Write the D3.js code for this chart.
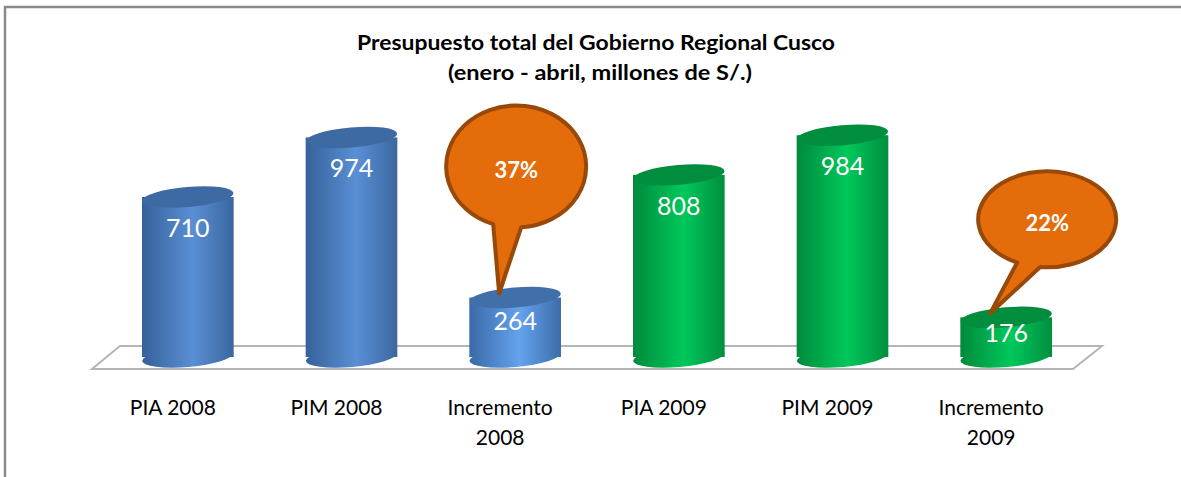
<!DOCTYPE html>
<html>
<head>
<meta charset="utf-8">
<script src="https://cdn.jsdelivr.net/npm/d3@7"></script>
<style>
  body { margin: 0; background: #fff; }
  svg { display: block; font-family: Lato, "Open Sans", sans-serif; }
</style>
</head>
<body>
<svg id="chart"></svg>
<script>
// chart data
const categories = ["PIA 2008", "PIM 2008", "Incremento 2008", "PIA 2009", "PIM 2009", "Incremento 2009"];
const values = [710, 974, 264, 808, 984, 176];
const groups = ["2008", "2008", "2008b", "2009", "2009", "2009"];
const calloutCategories = ["Incremento 2008", "Incremento 2009"];
const calloutLabels = ["37%", "22%"];

const width = 1181;
const height = 477;

const svg = d3.select("#chart")
    .attr("width", width)
    .attr("height", height);

const defs = svg.append("defs");

// gradients for the cylinder bodies
const bodyColors = {
    "2008": ["#36619a", "#5a8fd5", "#3a679f"],
    "2008b": ["#3a6aa6", "#64a3ee", "#3d6ca8"],
    "2009": ["#008a3b", "#00c85b", "#008f3e"]
};
const topColors = {
    "2008": "#3d6aa2",
    "2008b": "#406fa9",
    "2009": "#008d3d"
};
Object.keys(bodyColors).forEach(k => {
    const g = defs.append("linearGradient")
        .attr("id", "body-" + k)
        .attr("x1", "0%").attr("x2", "100%")
        .attr("y1", "0%").attr("y2", "0%");
    g.append("stop").attr("offset", "0%").attr("stop-color", bodyColors[k][0]);
    g.append("stop").attr("offset", "55%").attr("stop-color", bodyColors[k][1]);
    g.append("stop").attr("offset", "100%").attr("stop-color", bodyColors[k][2]);
});

// outer frame (top and left edges only)
svg.append("path")
    .attr("d", "M5,477 L5,7 L1181,7")
    .attr("fill", "none")
    .attr("stroke", "#8a8a8a")
    .attr("stroke-width", 2.5);

// title
svg.append("text")
    .attr("x", 596).attr("y", 50)
    .attr("text-anchor", "middle")
    .attr("font-weight", "bold")
    .attr("font-size", 21)
    .attr("textLength", 478)
    .attr("lengthAdjust", "spacingAndGlyphs")
    .text("Presupuesto total del Gobierno Regional Cusco");
svg.append("text")
    .attr("x", 600).attr("y", 80)
    .attr("text-anchor", "middle")
    .attr("font-weight", "bold")
    .attr("font-size", 21)
    .attr("textLength", 304)
    .attr("lengthAdjust", "spacingAndGlyphs")
    .text("(enero - abril, millones de S/.)");

// scales
const x = d3.scaleBand()
    .domain(categories)
    .range([106, 1088])
    .paddingInner(0.44)
    .paddingOuter(0.22);

const y = d3.scaleLinear()
    .domain([0, 1000])
    .range([357, 131.6]);

const rx = x.bandwidth() / 2;
const ry = 10;
const tilt = -5;

// floor
const [r0, r1] = x.range();
svg.append("path")
    .attr("d", `M${r0 + 14},346 L${r1 + 14},346 L${r1 - 15},369 L${r0 - 14},369 Z`)
    .attr("fill", "#fff")
    .attr("stroke", "#b5b5b5")
    .attr("stroke-width", 2);

// cylinders
const bars = svg.selectAll(".bar")
    .data(categories.map((c, i) => ({ cat: c, value: values[i], group: groups[i] })))
    .enter().append("g")
    .attr("class", "bar");

bars.each(function (d) {
    const g = d3.select(this);
    const cx = x(d.cat) + rx;
    const top = y(d.value);
    const bottom = y(0);
    g.append("ellipse")
        .attr("cx", cx).attr("cy", bottom)
        .attr("rx", rx).attr("ry", ry)
        .attr("transform", `rotate(${tilt},${cx},${bottom})`)
        .attr("fill", `url(#body-${d.group})`);
    g.append("rect")
        .attr("x", cx - rx).attr("y", top)
        .attr("width", rx * 2).attr("height", bottom - top)
        .attr("fill", `url(#body-${d.group})`);
    g.append("ellipse")
        .attr("cx", cx).attr("cy", top)
        .attr("rx", rx).attr("ry", ry)
        .attr("transform", `rotate(${tilt},${cx},${top})`)
        .attr("fill", topColors[d.group]);
    g.append("text")
        .attr("x", cx)
        .attr("y", top + Math.min(31, (bottom - top) * 0.4))
        .attr("dy", "0.35em")
        .attr("text-anchor", "middle")
        .attr("fill", "#fff")
        .attr("font-size", 25)
        .text(d.value);
});

// category labels
svg.selectAll(".cat")
    .data(categories)
    .enter().append("text")
    .attr("class", "cat")
    .attr("x", d => x(d) + rx - 15)
    .attr("y", 415)
    .attr("text-anchor", "middle")
    .attr("font-size", 21)
    .attr("fill", "#000")
    .each(function (d) {
        const words = d.split(" ");
        const t = d3.select(this);
        if (d.startsWith("Incremento")) {
            t.append("tspan").attr("x", x(d) + rx - 15).text(words[0]);
            t.append("tspan").attr("x", x(d) + rx - 15).attr("dy", 30).text(words[1]);
        } else {
            t.text(d);
        }
    });

// callouts
const calloutShape = [
    { dx: 1, dy: -131, rx: 70, ry: 61, bl: -23, br: 5 },
    { dx: 41, dy: -98, rx: 69, ry: 48, bl: -30, br: -7 }
];
calloutCategories.forEach((c, i) => {
    const s = calloutShape[i];
    const v = values[categories.indexOf(c)];
    const tipX = x(c) + rx - 16;
    const tipY = y(v) - 4;
    const ex = x(c) + rx + s.dx;
    const ey = y(v) + s.dy;
    const pt = dx => [ex + dx, ey + s.ry * Math.sqrt(1 - (dx * dx) / (s.rx * s.rx))];
    const bL = pt(s.bl);
    const bR = pt(s.br);
    svg.append("path")
        .attr("d", `M${tipX},${tipY} L${bL[0]},${bL[1]} A${s.rx},${s.ry} 0 1 1 ${bR[0]},${bR[1]} Z`)
        .attr("fill", "#e46c0a")
        .attr("stroke", "#984807")
        .attr("stroke-width", 4)
        .attr("stroke-linejoin", "round");
    svg.append("text")
        .attr("x", ex).attr("y", ey + 4)
        .attr("dy", "0.35em")
        .attr("text-anchor", "middle")
        .attr("fill", "#fff")
        .attr("font-weight", "bold")
        .attr("font-size", 22)
        .text(calloutLabels[i]);
});
</script>
</body>
</html>
